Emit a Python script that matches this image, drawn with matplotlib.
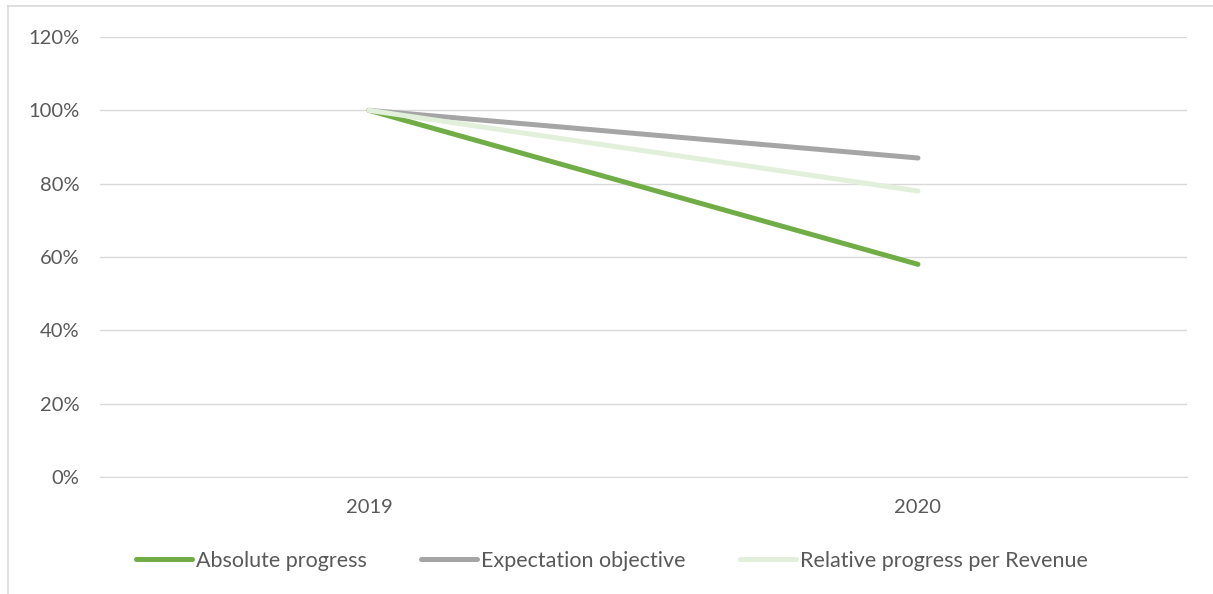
import matplotlib.pyplot as plt
from matplotlib.lines import Line2D
from matplotlib.ticker import FuncFormatter

years = ['2019', '2020']
absolute_progress = [100, 58]
expectation_objective = [100, 87]
relative_progress = [100, 78]

series = [
    ('Absolute progress', absolute_progress, '#70AD47'),
    ('Expectation objective', expectation_objective, '#A5A5A5'),
    ('Relative progress per Revenue', relative_progress, '#E2EFDA'),
]

plt.rcParams['font.family'] = ['Lato', 'DejaVu Sans']
W, H = 1213, 594
fig = plt.figure(figsize=(W / 100, H / 100), dpi=100)
ax = fig.add_axes([100 / W, 1 - 477 / H, (1187 - 100) / W, (477 - 37) / H])

x = range(len(years))
for label, vals, color in series:
    ax.plot(x, vals, color=color, lw=3.6, solid_capstyle='round', label=label)

ax.set_ylim(0, 120)
ax.set_yticks(range(0, 121, 20))
ax.yaxis.set_major_formatter(FuncFormatter(lambda v, p: f'{v:.0f}%'))
ax.set_xlim(-0.49, 1.49)
ax.set_xticks(list(x))
ax.set_xticklabels(years)
ax.grid(axis='y', color='#D9D9D9', lw=1)
ax.set_axisbelow(True)
for s in ['top', 'right', 'left']:
    ax.spines[s].set_visible(False)
ax.spines['bottom'].set_color('#D9D9D9')
ax.tick_params(length=0, labelsize=14.5, colors='#595959')
ax.tick_params(axis='y', pad=15)
ax.tick_params(axis='x', pad=16)

handles = [Line2D([], [], color=c, lw=3.6, solid_capstyle='round') for _, _, c in series]
fig.legend(handles, [s[0] for s in series], loc='center', bbox_to_anchor=(612 / W, 1 - 561 / H),
           ncol=3, frameon=False, fontsize=15.5, labelcolor='#595959', handlelength=2.6,
           handletextpad=0.2, columnspacing=2.5)

# chart frame (only left and top edges visible)
fig.add_artist(Line2D([8 / W, 8 / W], [0, 1 - 6 / H], color='#D9D9D9', lw=1.2, transform=fig.transFigure))
fig.add_artist(Line2D([8 / W, 1], [1 - 6 / H, 1 - 6 / H], color='#D9D9D9', lw=1.2, transform=fig.transFigure))

fig.savefig('out.png', dpi=100)
